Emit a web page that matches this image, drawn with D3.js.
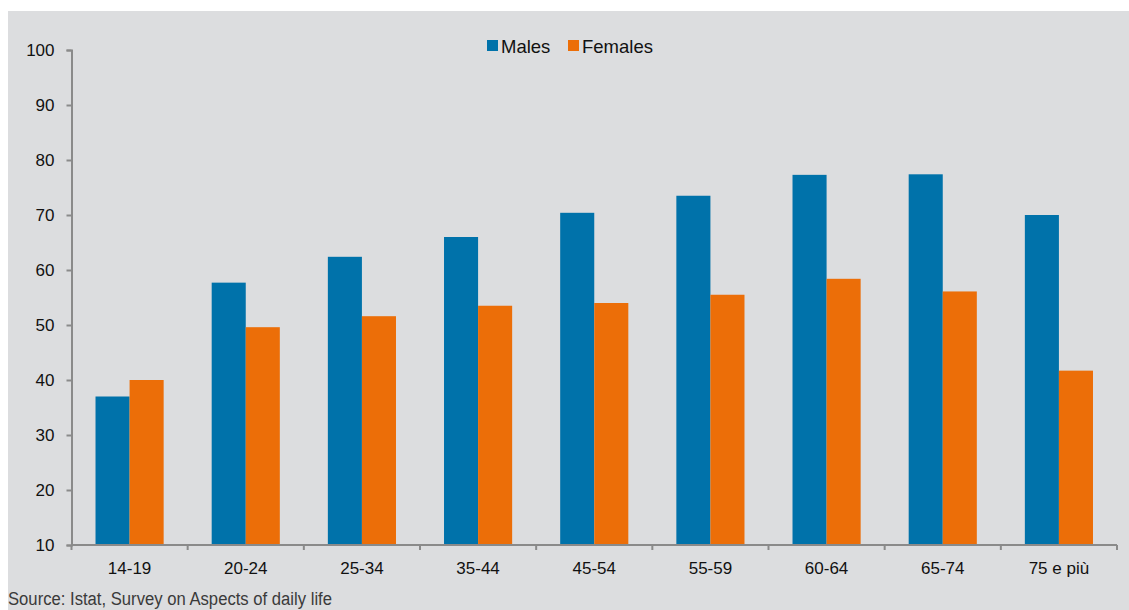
<!DOCTYPE html>
<html>
<head>
<meta charset="utf-8">
<script src="https://cdn.jsdelivr.net/npm/d3@7"></script>
<style>
  body { margin: 0; background: #fff; }
  svg { display: block; font-family: "Liberation Sans", Arial, sans-serif; }
</style>
</head>
<body>
<div class="chart"></div>
<script>
// age groups and shares (%)
const categories = ["14-19", "20-24", "25-34", "35-44", "45-54", "55-59", "60-64", "65-74", "75 e più"];
const males = [37, 57.7, 62.4, 66, 70.4, 73.5, 77.3, 77.4, 70];
const females = [40, 49.6, 51.6, 53.5, 54, 55.5, 58.4, 56.1, 41.7];
const seriesNames = ["Males", "Females"];
const yTicks = [10, 20, 30, 40, 50, 60, 70, 80, 90, 100];
const colors = { Males: "#0072aa", Females: "#ec6e08" };

const width = 1129, height = 610;
const margin = { top: 50, right: 12, bottom: 65, left: 71.5 };

const svg = d3.select(".chart").append("svg")
    .attr("width", width)
    .attr("height", height);

// panel background
svg.append("rect")
    .attr("x", 8).attr("y", 11)
    .attr("width", width - 8).attr("height", height - 11)
    .attr("fill", "#dcdddf");

const x = d3.scaleBand()
    .domain(categories)
    .range([margin.left, width - margin.right])
    .paddingInner(0).paddingOuter(0);

const inner = d3.scaleBand()
    .domain(seriesNames)
    .range([0, x.bandwidth()])
    .paddingInner(0)
    .paddingOuter(0.705);

const y = d3.scaleLinear()
    .domain([10, 100])
    .range([height - margin.bottom, margin.top]);

const rows = categories.map((c, i) => ({ cat: c, values: [
    { name: "Males", value: males[i] },
    { name: "Females", value: females[i] }
]}));

svg.append("g").selectAll("g")
    .data(rows)
    .enter().append("g")
    .attr("transform", d => `translate(${x(d.cat)},0)`)
    .selectAll("rect")
    .data(d => d.values)
    .enter().append("rect")
    .attr("x", d => inner(d.name))
    .attr("width", inner.bandwidth())
    .attr("y", d => y(d.value))
    .attr("height", d => y(10) - y(d.value))
    .attr("fill", d => colors[d.name]);

// y axis
const yAxis = svg.append("g")
    .attr("transform", `translate(${margin.left},0)`)
    .call(d3.axisLeft(y).tickValues(yTicks).tickSize(5).tickPadding(12));
yAxis.select(".domain").attr("stroke", "#8a8a8a").attr("stroke-width", 2);
yAxis.selectAll(".tick line").attr("stroke", "#8a8a8a").attr("stroke-width", 2);
yAxis.selectAll("text").attr("font-size", 17).attr("fill", "#111");

// x axis with ticks at category boundaries
const bounds = categories.map(c => x(c)).concat([x.range()[1]]);
const xAxis = svg.append("g")
    .attr("transform", `translate(0,${y(10)})`);
xAxis.append("line")
    .attr("x1", x.range()[0]).attr("x2", x.range()[1])
    .attr("stroke", "#8a8a8a").attr("stroke-width", 2);
xAxis.selectAll(".tk").data(bounds).enter().append("line")
    .attr("x1", d => d).attr("x2", d => d)
    .attr("y1", 0).attr("y2", 5)
    .attr("stroke", "#8a8a8a").attr("stroke-width", 2);
xAxis.selectAll("text").data(categories).enter().append("text")
    .attr("x", d => x(d) + x.bandwidth() / 2)
    .attr("y", 29)
    .attr("text-anchor", "middle")
    .attr("font-size", 17)
    .attr("fill", "#111")
    .text(d => d);

// legend
const legend = svg.append("g").attr("transform", "translate(487,46)");
const legendX = [0, 81];
seriesNames.forEach((n, i) => {
    const g = legend.append("g").attr("transform", `translate(${legendX[i]},0)`);
    g.append("rect").attr("x", 0).attr("y", -6).attr("width", 11).attr("height", 11).attr("fill", colors[n]);
    g.append("text").attr("x", 14).attr("y", 6.5).attr("font-size", 18.5).attr("fill", "#111").text(n);
});

// source note (condensed look)
svg.append("text")
    .attr("x", 8).attr("y", 605)
    .attr("font-size", 18)
    .attr("textLength", 324)
    .attr("lengthAdjust", "spacingAndGlyphs")
    .attr("fill", "#3a3a3a")
    .text("Source: Istat, Survey on Aspects of daily life");
</script>
</body>
</html>
